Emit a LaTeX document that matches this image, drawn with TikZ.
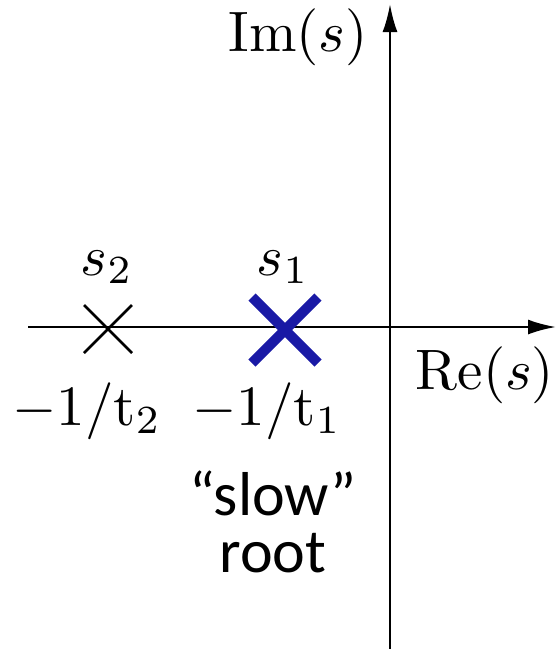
\documentclass[tikz,border=0pt]{standalone}
\usepackage{fontspec}
\newfontfamily\calibri{Carlito}
\usetikzlibrary{arrows.meta}
\definecolor{poleblue}{RGB}{25,25,165}
\begin{document}
\begin{tikzpicture}[x=1pt,y=-1pt,
  axis/.style={line width=2.5pt,-{Latex[length=28pt,width=15pt]}},
  mathlbl/.style={inner sep=0pt,scale=5.7,anchor=base},
  sanslbl/.style={inner sep=0pt,anchor=base,font=\calibri\fontsize{62}{70}\selectfont}]
\useasboundingbox (0,0) rectangle (557,649);
\coordinate (vbot) at (390,649);
\coordinate (vtop) at (390,4);
\coordinate (hleft) at (28,327);
\coordinate (hright) at (556,327);
\draw[axis] (vbot) -- (vtop);
\draw[axis] (hleft) -- (hright);
% poles
\coordinate (p2) at (108,329);
\coordinate (p1) at (285,330);
\draw[line width=2.5pt] ([shift={(-24,-24)}]p2) -- ([shift={(24,24)}]p2)
  ([shift={(-24,24)}]p2) -- ([shift={(24,-24)}]p2);
\draw[line width=10pt,poleblue] ([shift={(-33,-33)}]p1) -- ([shift={(33,33)}]p1)
  ([shift={(-33,33)}]p1) -- ([shift={(33,-33)}]p1);
\node[mathlbl] (im) at (298,51) {$\mathrm{Im}(s)$};
\node[mathlbl] (re) at (485,389) {$\mathrm{Re}(s)$};
\node[mathlbl] (s2) at (107,275) {$s_2$};
\node[mathlbl] (s1) at (283,275) {$s_1$};
\node[mathlbl] (t2) at (87,425) {$-1/\mathrm{t}_2$};
\node[mathlbl] (t1) at (267,425) {$-1/\mathrm{t}_1$};
\node[sanslbl] (slow) at (273,515) {“slow”};
\node[sanslbl] (root) at (273,572) {root};
\end{tikzpicture}
\end{document}
